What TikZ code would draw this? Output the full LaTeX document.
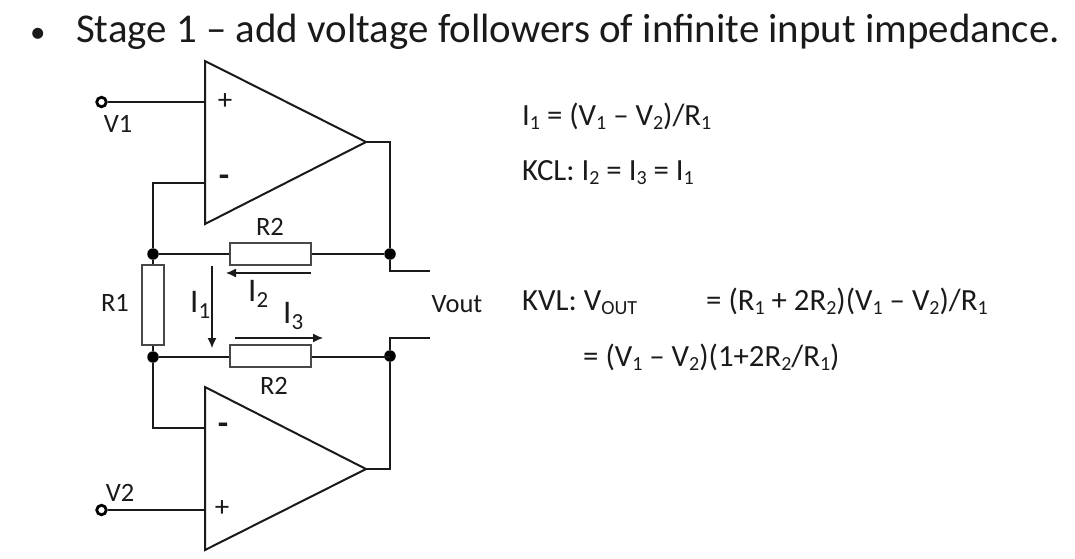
\documentclass[tikz,border=0pt]{standalone}
\usepackage{fontspec}
\setmainfont{Carlito}
\usetikzlibrary{arrows.meta}
\definecolor{ink}{HTML}{1A1A1A}
\newcommand{\sbt}[1]{\raisebox{-4pt}{\fontsize{20}{20}\selectfont #1}}
\newcommand{\sbl}[1]{\raisebox{-6pt}{\fontsize{23}{23}\selectfont #1}}
\tikzset{
  x=1pt,y=-1pt,
  wire/.style={draw=ink,line width=2pt,line join=miter},
  opamp/.style={draw=ink,line width=2pt,line join=miter},
  res/.style={draw=ink!80,line width=2.2pt,fill=white,rectangle,inner sep=0pt,minimum width=81pt,minimum height=22pt},
  resv/.style={draw=ink!80,line width=2.2pt,fill=white,rectangle,inner sep=0pt,minimum width=22pt,minimum height=80pt},
  junction/.style={circle,fill=black,inner sep=0pt,minimum size=11.5pt},
  terminal/.style={circle,draw=black,line width=2.8pt,fill=white,inner sep=0pt,minimum size=9.5pt},
  lab/.style={text=ink,font=\fontsize{26.5}{26.5}\selectfont,inner sep=0pt},
  eq/.style={text=ink,font=\fontsize{30.8}{30.8}\selectfont,inner sep=0pt,anchor=base west},
  sign/.style={text=ink,font=\fontsize{29}{29}\selectfont,inner sep=0pt},
  minussign/.style={text=ink,font=\bfseries\fontsize{34}{34}\selectfont,inner sep=0pt},
  cur/.style={draw=ink,line width=1.2pt,-{Latex[length=10pt,width=9pt]}},
  curl/.style={text=ink,font=\fontsize{33}{33}\selectfont,inner sep=0pt,anchor=base west},
}
\begin{document}
\begin{tikzpicture}
\useasboundingbox (0,0) rectangle (1075,558);
% title
\node[inner sep=0pt,anchor=base west,font=\fontsize{31}{31}\selectfont,text=ink] (bullet) at (30,42) {•};
\node[inner sep=0pt,anchor=base west,font=\fontsize{40.9}{40.9}\selectfont,text=ink] (title) at (76,42) {Stage 1 – add voltage followers of infinite input impedance.};
% amp geometry
\coordinate (atl) at (205,61);
\coordinate (abl) at (205,224);
\coordinate (aout) at (366,142);
\coordinate (aplus) at (205,102);
\coordinate (aminus) at (205,183);
\coordinate (btl) at (205,387);
\coordinate (bbl) at (205,550);
\coordinate (bout) at (366,469);
\coordinate (bminus) at (205,428);
\coordinate (bplus) at (205,509);
\draw[opamp] (atl) -- (aout) -- (abl) -- cycle;
\draw[opamp] (btl) -- (bout) -- (bbl) -- cycle;
% junctions and parts
\node[junction] (j1) at (153,254) {};
\node[junction] (j2) at (390,254) {};
\node[junction] (j3) at (153,357) {};
\node[junction] (j4) at (390,356) {};
\node[terminal] (v1) at (101.5,102) {};
\node[terminal] (v2) at (101.5,510) {};
\coordinate (o1) at (430,271);
\coordinate (o2) at (430,338);
% wires
\draw[wire] (v1) -- (aplus);
\draw[wire] (v2) -- (v2 -| bplus);
\draw[wire] (aminus) -| (j1);
\draw[wire] (bminus) -| (j3);
\draw[wire] (aout) -| (j2);
\draw[wire] (bout) -| (j4);
\draw[wire] (j2) |- (o1);
\draw[wire] (j4) |- (o2);
\draw[wire] (j1) -- (j2);
\draw[wire] (j3) -- (j3 -| j4) ;
\draw[wire] (j1) -- (j3);
% resistors
\node[res] (r2a) at (270.5,254) {};
\node[res] (r2b) at (270.5,356) {};
\node[resv] (r1) at (153,305) {};
% currents
\coordinate (i1s) at (212,266);
\coordinate (i1e) at (212,348);
\coordinate (i2s) at (311,273);
\coordinate (i2e) at (226,273);
\coordinate (i3s) at (235,338);
\coordinate (i3e) at (323,338);
\draw[cur] (i1s) -- (i1e);
\draw[cur] (i2s) -- (i2e);
\draw[cur] (i3s) -- (i3e);
% signs
\node[sign] (p1) at (225,102) {+};
\node[minussign] (m1) at (224,181) {-};
\node[minussign] (m2) at (223,429) {-};
\node[sign] (p2) at (222,509) {+};
% labels
\node[lab] (lv1) at (118,124) {V1};
\node[lab] (lv2) at (120,493) {V2};
\node[lab] (lr2a) at (270,227) {R2};
\node[lab] (lr2b) at (274,386) {R2};
\node[lab] (lr1) at (115,303) {R1};
\node[lab] (lvout) at (457,304) {Vout};
\node[curl] (li1) at (190,312) {I\sbl{1}};
\node[curl] (li2) at (248,301) {I\sbl{2}};
\node[curl] (li3) at (283,323) {I\sbl{3}};
% equations
\node[eq] (e1) at (522,125) {I\sbt{1} = (V\sbt{1} – V\sbt{2})/R\sbt{1}};
\node[eq] (e2) at (522,180) {KCL: I\sbt{2} = I\sbt{3} = I\sbt{1}};
\node[eq] (e3) at (522,310) {KVL: V\sbt{OUT}};
\node[eq] (e4) at (706,310) {= (R\sbt{1} + 2R\sbt{2})(V\sbt{1} – V\sbt{2})/R\sbt{1}};
\node[eq] (e5) at (583,366) {= (V\sbt{1} – V\sbt{2})(1+2R\sbt{2}/R\sbt{1})};
\end{tikzpicture}
\end{document}
